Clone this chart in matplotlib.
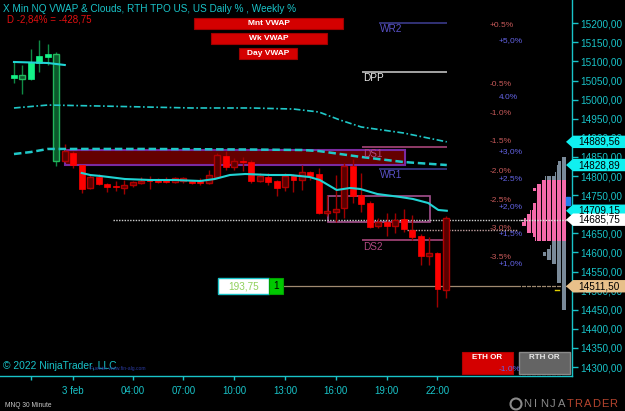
import matplotlib
matplotlib.use("Agg")
import matplotlib.pyplot as plt
import numpy as np
from matplotlib.patches import Rectangle, Polygon, Ellipse
from matplotlib.lines import Line2D
from matplotlib.transforms import blended_transform_factory

plt.rcParams['font.family'] = ['Liberation Sans', 'DejaVu Sans']

# velas MNQ 30 min (indice de barra 1..52)
opens  = [15064.5, 15054.25, 15098.75, 15114.5, 15119.5, 14839.5, 14839.5, 14860.5, 14829.0, 14768.75,
          14797.5, 14779.25, 14774.0, 14768.75, 14776.5, 14781.75, 14789.75, 14789.75, 14792.25, 14784.5,
          14787.0, 14787.0, 14787.0, 14781.75, 14797.5, 14852.5, 14823.75, 14839.5, 14836.75, 14787.0,
          14797.5, 14787.0, 14771.5, 14800.25, 14789.75, 14810.5, 14805.5, 14703.25, 14706.0, 14716.5,
          14826.25, 14750.5, 14729.5, 14669.25, 14679.75, 14669.25, 14687.5, 14658.75, 14643.0, 14590.75,
          14598.5, 14501.5]
highs  = [15098.75, 15090.75, 15132.75, 15156.25, 15145.75, 15124.75, 14884.0, 14865.5, 14830.0, 14802.75,
          14805.5, 14781.75, 14787.0, 14789.75, 14787.0, 14797.5, 14800.25, 14795.0, 14797.5, 14797.5,
          14797.5, 14789.75, 14795.0, 14816.0, 14860.5, 14865.5, 14847.25, 14850.0, 14842.0, 14808.0,
          14808.0, 14789.75, 14808.0, 14805.5, 14829.0, 14813.25, 14821.0, 14750.5, 14802.75, 14834.25,
          14844.75, 14808.0, 14734.75, 14690.25, 14703.25, 14703.25, 14713.75, 14698.0, 14648.25, 14640.5,
          14600.0, 14695.5]
lows   = [15043.75, 15015.0, 15051.5, 15072.5, 15090.75, 14826.25, 14836.75, 14821.0, 14755.75, 14767.0,
          14776.5, 14758.25, 14761.0, 14753.0, 14771.5, 14780.0, 14766.0, 14781.75, 14781.75, 14781.75,
          14781.75, 14779.25, 14776.5, 14779.25, 14795.0, 14816.0, 14816.0, 14813.25, 14781.75, 14784.5,
          14776.5, 14747.75, 14761.0, 14758.25, 14763.5, 14789.75, 14700.75, 14695.5, 14679.75, 14690.25,
          14729.5, 14706.0, 14664.0, 14664.0, 14643.0, 14651.0, 14653.5, 14632.5, 14567.0, 14567.0,
          14457.0, 14480.75]
closes = [15056.75, 15064.5, 15054.25, 15096.0, 15111.75, 15119.5, 14865.5, 14829.0, 14766.0, 14797.5,
          14779.25, 14771.5, 14771.5, 14776.5, 14784.5, 14787.0, 14787.0, 14784.5, 14784.5, 14795.0,
          14795.0, 14781.75, 14781.75, 14802.75, 14855.0, 14823.75, 14839.5, 14836.75, 14787.0, 14800.25,
          14784.5, 14768.75, 14800.25, 14789.75, 14810.5, 14800.25, 14703.25, 14708.5, 14713.75, 14826.25,
          14747.75, 14726.75, 14666.5, 14679.75, 14669.25, 14685.0, 14661.5, 14640.5, 14590.75, 14598.5,
          14504.25, 14690.25]
n_green = 6   # primeras velas (sesion anterior)

# VWAP de sesion y bandas
vwap1_x = [1, 3, 5, 6, 7]
vwap1   = [15098.7, 15097.4, 15096.0, 15093.4, 15090.8]
vwap2_x = [9.0, 10.0, 11.2, 14.1, 17.1, 20.0, 23.0, 24.7, 26.5, 28.3, 31.2, 33.6, 35.9, 37.1,
           39.1, 40.7, 41.9, 43.9, 46.6, 48.1, 49.9, 51.1, 52.1]
vwap2   = [14808.0, 14802.8, 14800.2, 14792.3, 14789.7, 14789.7, 14787.1, 14792.3, 14802.8, 14805.4,
           14802.8, 14802.8, 14797.5, 14789.7, 14763.5, 14768.8, 14766.1, 14753.0, 14745.2, 14740.0,
           14729.5, 14711.2, 14709.15]
band_up_x = [1, 5, 11, 22, 29, 34, 37, 39.5, 42, 47, 52.1]
band_up   = [14978.25, 14986.0, 14983.5, 14978.25, 14978.25, 14975.5, 14967.75, 14946.75, 14928.5,
             14912.75, 14889.56]
band_dn_x = [1, 3, 5, 17, 29, 35, 37, 39.5, 42, 47, 52.1]
band_dn   = [14857.75, 14863.0, 14871.0, 14871.0, 14869.5, 14868.25, 14865.5, 14857.75, 14850.0,
             14836.75, 14828.89]

# niveles
pivot_names  = ["WR2", "DPP", "DS1", "WR1", "DS2"]
pivot_prices = [15201.0, 15072.5, 14876.0, 14818.5, 14632.5]
day_pct   = ["+0.5%", "-0.5%", "-1.0%", "-1.5%", "-2.0%", "-2.5%", "-3.0%", "-3.5%"]
day_pct_p = [15193.75, 15041.0, 14965.0, 14889.25, 14813.25, 14737.25, 14661.5, 14585.5]
week_pct   = ["+5,0%", "4.0%", "+3,0%", "+2.5%", "+2,0%", "+1,5%", "+1,0%", "-1.0%"]
week_pct_p = [15153.75, 15007.0, 14863.0, 14792.25, 14719.0, 14648.25, 14572.25, 14292.25]

cloud_box = (7, 47.2, 14829.0, 14868.25)
or_box    = (38.1, 50.1, 14679.75, 14747.75)
last_price = 14685.75
fill_price = 14511.50
open_line  = 14660.0

# perfil TPO
prof_price = [14845, 14835, 14825, 14815, 14805, 14795, 14785, 14775, 14765, 14755,
              14745, 14735, 14725, 14715, 14705, 14695, 14685, 14675, 14665, 14655,
              14645, 14635, 14625, 14615, 14605, 14595, 14585, 14575, 14565, 14555,
              14545, 14535, 14525, 14515, 14505, 14495, 14485, 14475, 14465, 14455]
prof_vol = [4, 8, 10, 10, 11, 21, 25, 29, 33, 29, 29, 30, 33, 33, 36, 40, 42, 44, 40, 39,
            33, 31, 14, 16, 19, 23, 20, 14, 10, 10, 10, 9, 9, 5, 5, 5, 5, 5, 5, 5]
va_high, va_low = 14790, 14630

flag_prices = [14889.56, 14828.89, 14709.15, 14685.75, 14511.50]
flag_colors = ['#10f0f0', '#10f0f0', '#10f0f0', '#ffffff', '#e8c08a']

tick_pos    = [3, 8, 15, 21, 27, 33, 39, 45, 51]
tick_labels = ['', '3 feb', '04:00', '07:00', '10:00', '13:00', '16:00', '19:00', '22:00']

CY = '#19c3c8'
W, H = 625, 411
def fx(x): return x / W
def fy(y): return 1 - y / H

fig = plt.figure(figsize=(6.25, 4.11), dpi=100, facecolor='black')
ax = fig.add_axes([0, 35 / H, 572 / W, 376 / H], facecolor='black')
ax.set_xlim(-0.65, 66.88)
ax.set_ylim(14276.5, 15261.0)
pp = 2.6185  # puntos por pixel
trans = blended_transform_factory(fig.transFigure, ax.transData)

# nube / caja
x0, x1, y0, y1 = cloud_box
ax.add_patch(Rectangle((x0, y0), x1 - x0, y1 - y0, facecolor='#640000', edgecolor='#7a2aa0', lw=1.5, zorder=1))
x0, x1, y0, y1 = or_box
ax.add_patch(Rectangle((x0, y0), x1 - x0, y1 - y0, facecolor='none', edgecolor='#a4508e', lw=1.2, zorder=2))

# velas
for i, (o, h, l, c) in enumerate(zip(opens, highs, lows, closes), start=1):
    if i <= n_green:
        bright, dark, edge, wick = '#14f287', '#0b5a2c', '#22b85c', '#0f8a45'
    else:
        bright, dark, edge, wick = '#ff0000', '#5a0000', '#b00000', '#a00000'
    ax.vlines(i, l, h, color=wick, lw=1, zorder=3)
    lo, hi = min(o, c), max(o, c)
    hgt = max(hi - lo, 1.5)
    if c > o:
        ax.add_patch(Rectangle((i - 0.35, lo), 0.7, hgt, facecolor=dark, edgecolor=edge, lw=1, zorder=4))
    else:
        ax.add_patch(Rectangle((i - 0.35, lo), 0.7, hgt, facecolor=bright, edgecolor=bright, lw=0.5, zorder=4))

# VWAP
ax.plot(vwap1_x, vwap1, color='#20d4d4', lw=1.5, zorder=5)
ax.plot(vwap2_x, vwap2, color='#20d4d4', lw=1.5, zorder=5)
ax.plot(band_up_x, band_up, color='#20c8c8', lw=1.2, ls=(0, (4, 1.5, 1, 1.5)), zorder=5)
ax.plot(band_dn_x, band_dn, color='#20c8c8', lw=1.8, ls=(0, (3, 1.5)), zorder=5)

# pivotes
for name, p in zip(pivot_names, pivot_prices):
    if name.startswith('W'):
        xs, lc, tc = 44.1, '#3a3a8a', '#5a52c8'
    elif name == 'DPP':
        xs, lc, tc = 42.1, '#c0c0c0', '#e8e8e8'
    else:
        xs, lc, tc = 42.1, '#a8457a', '#b04880'
    ax.hlines(p, xs, 52.1, colors=lc, lw=1.2, zorder=2)
    ax.text(xs + 0.1, p - 1.5 * pp, name, color=tc, fontsize=7.2, va='top', ha='left', zorder=6)

# lineas de precio
ax.hlines(last_price, 12.7, 66.88, colors='#d0d0d0', linestyles=(0, (1, 1)), lw=1, zorder=2)
ax.hlines(open_line, 47.4, 60.4, colors='#c0a0a0', linestyles=(0, (1, 1)), lw=1, zorder=2)
ax.hlines(fill_price, 32.8, 66.88, colors='#a08a70', lw=0.9, zorder=2)

# etiquetas %
for t, p in zip(day_pct, day_pct_p):
    ax.text(fx(490), p, t, transform=trans, color='#c85a5a', fontsize=6, va='center', ha='left', zorder=8)
for t, p in zip(week_pct, week_pct_p):
    ax.text(fx(499), p, t, transform=trans, color='#6464e6', fontsize=6, va='center', ha='left', zorder=8)

# perfil
axp = ax.inset_axes([520 / 572, 0, 46 / 572, 1])
axp.set_xlim(46, 0)
axp.set_ylim(ax.get_ylim())
axp.axis('off')
pc = ['#f56aaa' if va_low <= p <= va_high else '#7a8a99' for p in prof_price]
axp.barh(prof_price, prof_vol, height=10, color=pc, edgecolor='none')
axp.vlines(np.arange(5, 46, 5), 14276.5, 15261, colors='black', lw=0.7)
axp.hlines(last_price, 0, 46, colors='#e0e0e0', linestyles=(0, (1, 1)), lw=1)

ax.add_patch(Rectangle((fx(566), 14724), fx(570) - fx(566), 21, transform=trans, color='#2080f0', clip_on=False, zorder=6))
ax.add_line(Line2D([fx(555), fx(559)], [14501, 14501], transform=trans, color='#e0d000', lw=1, zorder=6))

# banderas eje derecho
hh = 6.2 * pp
for p, col in zip(flag_prices, flag_colors):
    poly = Polygon([(fx(566), p), (fx(573), p + hh), (1, p + hh), (1, p - hh), (fx(573), p - hh)],
                   closed=True, transform=trans, facecolor=col, edgecolor='none', clip_on=False, zorder=10)
    ax.add_patch(poly)
    ax.text(fx(578), p, f"{p:.2f}".replace('.', ','), transform=trans, color='black', fontsize=7.2,
            va='center', ha='left', zorder=11, clip_on=False)

# ejes
for s in ['top', 'left']:
    ax.spines[s].set_visible(False)
for s in ['bottom', 'right']:
    ax.spines[s].set_color(CY)
    ax.spines[s].set_linewidth(1)
ax.yaxis.tick_right()
yt = np.arange(14300, 15201, 50)
ax.set_yticks(yt)
# 14700 queda tapado del todo por las banderas
ax.set_yticklabels(['' if v == 14700 else f"{v:.2f}".replace('.', ',') for v in yt])
ax.tick_params(axis='y', colors=CY, direction='out', length=4, width=1, labelsize=7.2, pad=2)
ax.set_xticks(tick_pos)
ax.set_xticklabels(tick_labels)
ax.tick_params(axis='x', colors=CY, direction='out', length=3, width=1, labelsize=7, pad=4.5)

# textos y botones
fig.text(fx(3), fy(9.5), "X Min NQ VWAP & Clouds, RTH TPO US, US Daily % , Weekly %", color=CY, fontsize=7.2, va='center')
fig.text(fx(7), fy(19), "D -2,84% = -428,75", color='#e01010', fontsize=7, va='center')
for (a, b, c_, d), t in zip([(194, 18, 343, 29), (211, 33, 327, 44), (239, 48, 297, 59)],
                            ["Mnt VWAP", "Wk VWAP", "Day VWAP"]):
    fig.add_artist(Rectangle((fx(a), fy(d)), fx(c_) - fx(a), fy(b) - fy(d), transform=fig.transFigure,
                             facecolor='#d40000', edgecolor='#a00000', lw=0.8))
    fig.text(fx(268.5), fy((b + d) / 2), t, color='white', fontsize=6, fontweight='bold', ha='center', va='center')

ax.add_patch(Rectangle((fx(218), fy(294)), fx(269) - fx(218), fy(278) - fy(294), transform=fig.transFigure,
                       facecolor='white', edgecolor=CY, lw=1, zorder=9))
ax.text(fx(243.5), fy(286), "193,75", transform=fig.transFigure, color='#8fd05a', fontsize=7.2, ha='center', va='center', zorder=10)
ax.add_patch(Rectangle((fx(269), fy(294)), fx(283) - fx(269), fy(278) - fy(294), transform=fig.transFigure,
                       facecolor='#00c800', edgecolor='#00a000', lw=0.8, zorder=9))
ax.text(fx(276), fy(286), "1", transform=fig.transFigure, color='black', fontsize=7.2, ha='center', va='center', zorder=10)

ax.add_patch(Rectangle((fx(462), fy(374)), fx(513) - fx(462), fy(352) - fy(374), transform=fig.transFigure,
                       facecolor='#d40000', edgecolor='#b00000', lw=0.8, zorder=7))
ax.text(fx(487.5), fy(357), "ETH OR", transform=fig.transFigure, color='white', fontsize=5.8, fontweight='bold', ha='center', va='center', zorder=8)
ax.add_patch(Rectangle((fx(519), fy(374)), fx(570) - fx(519), fy(352) - fy(374), transform=fig.transFigure,
                       facecolor='#646464', edgecolor='#8a8a8a', lw=1, zorder=7))
ax.text(fx(544.5), fy(357), "RTH OR", transform=fig.transFigure, color='#e8e8e8', fontsize=5.8, fontweight='bold', ha='center', va='center', zorder=8)

fig.text(fx(3), fy(366), "© 2022 NinjaTrader, LLC", color=CY, fontsize=7.4, va='center')
fig.text(fx(90), fy(368), "Fuente: www.fin-alg.com", color='#2a3aa0', fontsize=3.6, va='center')
fig.text(fx(5), fy(405), "MNQ 30 Minute", color='#c8c8c8', fontsize=4.8, va='center')

# logo
fig.add_artist(Ellipse((fx(516), fy(404)), 11 / W, 11 / H, transform=fig.transFigure, facecolor='none', edgecolor='#8a8a8a', lw=1.5))
for k, ch in enumerate("NINJATRADER"):
    fig.text(fx(527 + k * 8.6), fy(404), ch, color='#8a8a8a' if k < 5 else '#b5442e',
             fontsize=8, va='center', ha='center')

fig.savefig("out.png", dpi=100, facecolor='black')
